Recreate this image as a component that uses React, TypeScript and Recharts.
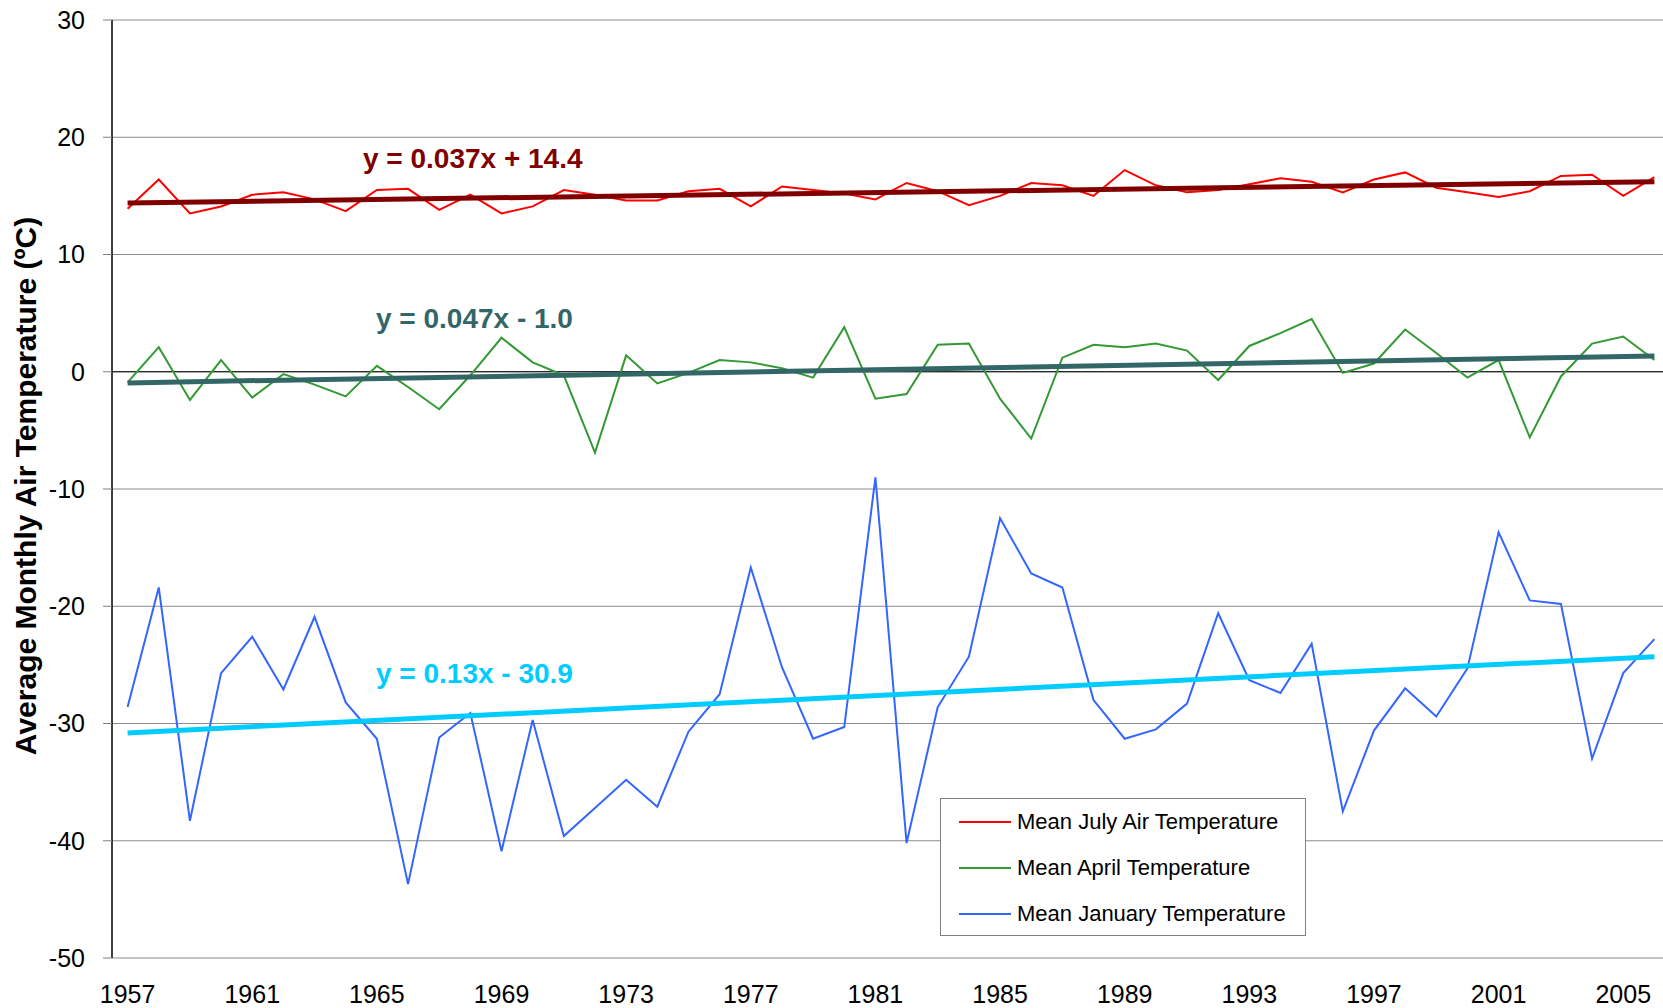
import React from 'react';
import { LineChart, Line, XAxis, YAxis, CartesianGrid, ReferenceLine } from 'recharts';

const FONT = '"Liberation Sans", Arial, sans-serif';

const YEARS = [
  '1957', '1958', '1959', '1960', '1961', '1962', '1963', '1964', '1965', '1966',
  '1967', '1968', '1969', '1970', '1971', '1972', '1973', '1974', '1975', '1976',
  '1977', '1978', '1979', '1980', '1981', '1982', '1983', '1984', '1985', '1986',
  '1987', '1988', '1989', '1990', '1991', '1992', '1993', '1994', '1995', '1996',
  '1997', '1998', '1999', '2000', '2001', '2002', '2003', '2004', '2005', '2006',
];

const JULY = [
  13.9, 16.4, 13.5, 14.1, 15.1, 15.3, 14.7, 13.7, 15.5, 15.6,
  13.8, 15.1, 13.5, 14.1, 15.5, 15.1, 14.6, 14.6, 15.4, 15.6,
  14.1, 15.8, 15.5, 15.2, 14.7, 16.1, 15.4, 14.2, 15.0, 16.1,
  15.9, 15.0, 17.2, 15.9, 15.3, 15.5, 16.0, 16.5, 16.2, 15.3,
  16.4, 17.0, 15.7, 15.3, 14.9, 15.4, 16.7, 16.8, 15.0, 16.6,
];

const APRIL = [
  -0.9, 2.1, -2.4, 1.0, -2.2, -0.2, -1.1, -2.1, 0.5, -1.3,
  -3.2, -0.3, 2.9, 0.8, -0.3, -6.9, 1.4, -1.0, -0.1, 1.0,
  0.8, 0.3, -0.5, 3.8, -2.3, -1.9, 2.3, 2.4, -2.3, -5.7,
  1.2, 2.3, 2.1, 2.4, 1.8, -0.7, 2.2, 3.3, 4.5, -0.1,
  0.7, 3.6, 1.6, -0.5, 1.0, -5.6, -0.4, 2.4, 3.0, 1.0,
];

const JANUARY = [
  -28.6, -18.4, -38.3, -25.7, -22.6, -27.1, -20.9, -28.2, -31.3, -43.7,
  -31.2, -29.1, -40.9, -29.7, -39.6, -37.2, -34.8, -37.1, -30.7, -27.5,
  -16.7, -25.2, -31.3, -30.3, -9.0, -40.2, -28.6, -24.3, -12.5, -17.2,
  -18.4, -28.0, -31.3, -30.5, -28.3, -20.6, -26.3, -27.4, -23.2, -37.5,
  -30.6, -27.0, -29.4, -25.3, -13.7, -19.5, -19.8, -33.0, -25.7, -22.8,
];

// trendline ends (first year, last year)
const JULY_TREND = [14.4, 16.2];
const APRIL_TREND = [-0.95, 1.35];
const JANUARY_TREND = [-30.8, -24.3];

const Y_TICKS = [-50, -40, -30, -20, -10, 0, 10, 20, 30];

const EQUATIONS = [
  { text: 'y = 0.037x + 14.4', color: '#800000', x: 363, y: 168 },
  { text: 'y = 0.047x - 1.0', color: '#336666', x: 376, y: 328 },
  { text: 'y = 0.13x - 30.9', color: '#00CCFF', x: 376, y: 683 },
];

const LEGEND = [
  { name: 'Mean July Air Temperature', color: '#FF0000' },
  { name: 'Mean April Temperature', color: '#339933' },
  { name: 'Mean January Temperature', color: '#3366FF' },
];

const last = YEARS.length - 1;
const ends = (pair: number[], i: number) => (i === 0 ? pair[0] : i === last ? pair[1] : null);

const rows = YEARS.map((year, i) => ({
  year,
  july: JULY[i],
  april: APRIL[i],
  january: JANUARY[i],
  julyTrend: ends(JULY_TREND, i),
  aprilTrend: ends(APRIL_TREND, i),
  januaryTrend: ends(JANUARY_TREND, i),
}));

export default function App() {
  return (
    <div style={{ position: 'fixed', left: 0, top: 0, width: 1663, height: 1008, overflow: 'hidden', background: '#fff', fontFamily: FONT }}>
      <LineChart width={1670} height={1008} data={rows} margin={{ top: 20, right: 0, bottom: 0, left: 0 }}>
        <CartesianGrid vertical={false} stroke="#8c8c8c" strokeWidth={1} />
        <XAxis
          dataKey="year"
          interval={3}
          padding={{ left: 15.6, right: 15.6 }}
          axisLine={false}
          tickLine={false}
          tickMargin={21}
          height={50}
          tick={{ fontSize: 25, fill: '#000', fontFamily: FONT }}
        />
        <YAxis
          width={112}
          domain={[-50, 30]}
          ticks={Y_TICKS}
          interval={0}
          axisLine={{ stroke: '#000', strokeWidth: 1.5 }}
          tickLine={{ stroke: '#808080' }}
          tickSize={9}
          tickMargin={18}
          tick={{ fontSize: 25, fill: '#000', fontFamily: FONT }}
        />
        <ReferenceLine y={0} stroke="#000" strokeWidth={1} />
        <Line dataKey="july" stroke="#FF0000" strokeWidth={2} dot={false} activeDot={false} isAnimationActive={false} />
        <Line dataKey="april" stroke="#339933" strokeWidth={2} dot={false} activeDot={false} isAnimationActive={false} />
        <Line dataKey="january" stroke="#3366FF" strokeWidth={2} dot={false} activeDot={false} isAnimationActive={false} />
        <Line dataKey="julyTrend" stroke="#800000" strokeWidth={5} connectNulls dot={false} activeDot={false} isAnimationActive={false} />
        <Line dataKey="aprilTrend" stroke="#336666" strokeWidth={5} connectNulls dot={false} activeDot={false} isAnimationActive={false} />
        <Line dataKey="januaryTrend" stroke="#00CCFF" strokeWidth={5} connectNulls dot={false} activeDot={false} isAnimationActive={false} />
      </LineChart>

      <svg width={1663} height={1008} style={{ position: 'absolute', left: 0, top: 0, pointerEvents: 'none' }}>
        <text
          transform="translate(36, 486) rotate(-90)"
          textAnchor="middle"
          fontSize={30}
          fontWeight="bold"
          fontFamily={FONT}
          fill="#000"
        >
          Average Monthly Air Temperature (ºC)
        </text>
        {EQUATIONS.map(eq => (
          <text key={eq.text} x={eq.x} y={eq.y} fontSize={28} fontWeight="bold" fontFamily={FONT} fill={eq.color}>
            {eq.text}
          </text>
        ))}
      </svg>

      <div style={{ position: 'absolute', left: 940, top: 798, width: 366, height: 138, boxSizing: 'border-box', border: '1px solid #808080', background: '#fff' }}>
        {LEGEND.map((item, i) => (
          <div key={item.name} style={{ position: 'absolute', left: 18, top: 10 + i * 46, height: 26, display: 'flex', alignItems: 'center' }}>
            <div style={{ width: 52, height: 2, background: item.color, marginRight: 6 }} />
            <span style={{ fontSize: 22, color: '#000', whiteSpace: 'nowrap' }}>{item.name}</span>
          </div>
        ))}
      </div>
    </div>
  );
}
